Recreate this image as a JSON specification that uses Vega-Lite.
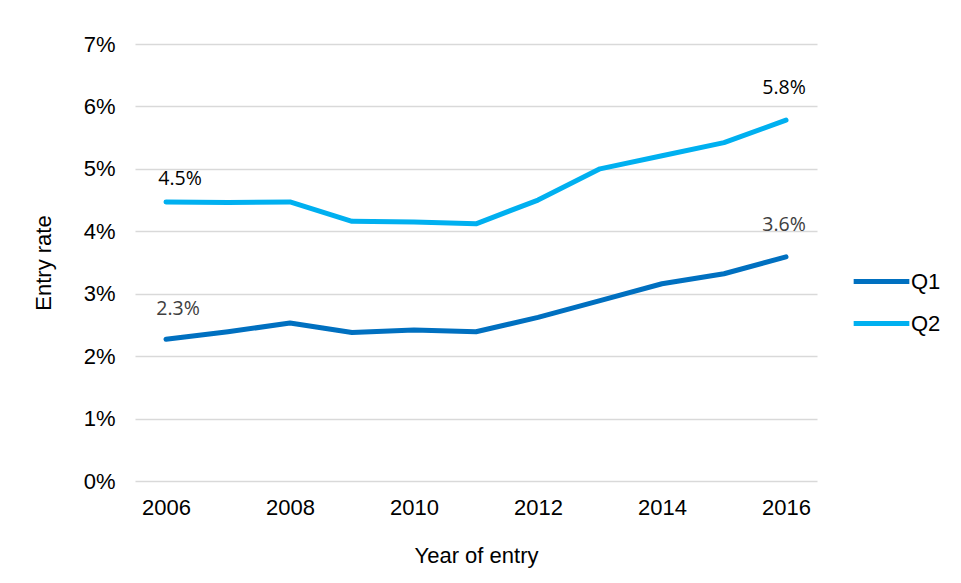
{
  "$schema": "https://vega.github.io/schema/vega-lite/v6.json",
  "autosize": {"type": "none"},
  "padding": {"left": 135, "top": 44, "right": 144, "bottom": 102},
  "width": 682,
  "height": 437,
  "background": "white",
  "config": {
    "view": {"stroke": null},
    "font": "Liberation Sans",
    "axis": {"labelFont": "Liberation Sans", "titleFont": "Liberation Sans", "labelFontSize": 22, "titleFontSize": 22, "labelColor": "#000000", "titleColor": "#000000", "titleFontWeight": "normal", "domain": false, "ticks": false, "tickSize": 0}
  },
  "data": {
    "values": [
      {"year": 2006, "series": "Q1", "rate": 0.0227},
      {"year": 2007, "series": "Q1", "rate": 0.0239},
      {"year": 2008, "series": "Q1", "rate": 0.0253},
      {"year": 2009, "series": "Q1", "rate": 0.0238},
      {"year": 2010, "series": "Q1", "rate": 0.0242},
      {"year": 2011, "series": "Q1", "rate": 0.0239},
      {"year": 2012, "series": "Q1", "rate": 0.0262},
      {"year": 2013, "series": "Q1", "rate": 0.0289},
      {"year": 2014, "series": "Q1", "rate": 0.0316},
      {"year": 2015, "series": "Q1", "rate": 0.0332},
      {"year": 2016, "series": "Q1", "rate": 0.0359},
      {"year": 2006, "series": "Q2", "rate": 0.0447},
      {"year": 2007, "series": "Q2", "rate": 0.0446},
      {"year": 2008, "series": "Q2", "rate": 0.0447},
      {"year": 2009, "series": "Q2", "rate": 0.0416},
      {"year": 2010, "series": "Q2", "rate": 0.0415},
      {"year": 2011, "series": "Q2", "rate": 0.0412},
      {"year": 2012, "series": "Q2", "rate": 0.0450},
      {"year": 2013, "series": "Q2", "rate": 0.0500},
      {"year": 2014, "series": "Q2", "rate": 0.0521},
      {"year": 2015, "series": "Q2", "rate": 0.0542},
      {"year": 2016, "series": "Q2", "rate": 0.0578}
    ]
  },
  "encoding": {
    "x": {
      "field": "year", "type": "quantitative",
      "scale": {"domain": [2005.5, 2016.5], "nice": false, "zero": false},
      "axis": {"values": [2006, 2008, 2010, 2012, 2014, 2016], "format": "d", "grid": false, "labelPadding": 16, "title": "Year of entry", "titlePadding": 27, "labelFlush": false}
    },
    "y": {
      "field": "rate", "type": "quantitative",
      "scale": {"domain": [0, 0.07], "nice": false},
      "axis": {"values": [0, 0.01, 0.02, 0.03, 0.04, 0.05, 0.06, 0.07], "format": ".0%", "grid": true, "gridColor": "#d9d9d9", "gridWidth": 1.5, "labelPadding": 20, "title": "Entry rate", "titlePadding": 28}
    }
  },
  "layer": [
    {
      "mark": {"type": "line", "strokeWidth": 5, "strokeCap": "round", "strokeJoin": "round"},
      "encoding": {
        "color": {
          "field": "series", "type": "nominal",
          "scale": {"domain": ["Q1", "Q2"], "range": ["#0070c0", "#00b0f0"]},
          "legend": {
            "title": null, "orient": "none", "legendX": 716, "legendY": 207,
            "symbolType": "stroke", "symbolSize": 3100, "symbolStrokeWidth": 5,
            "labelFont": "Liberation Sans", "labelFontSize": 22, "labelColor": "#000000",
            "labelOffset": -1, "rowPadding": -1
          }
        }
      }
    },
    {
      "transform": [{"filter": "datum.year == 2006 && datum.series == 'Q2'"}],
      "mark": {"type": "text", "font": "Open Sans", "fontSize": 19.5, "dx": 14, "dy": -23, "baseline": "middle", "align": "center", "color": "#000000"},
      "encoding": {"text": {"field": "rate", "type": "quantitative", "format": ".1%"}}
    },
    {
      "transform": [{"filter": "datum.year == 2006 && datum.series == 'Q1'"}],
      "mark": {"type": "text", "font": "Open Sans", "fontSize": 19.5, "dx": 12, "dy": -30, "baseline": "middle", "align": "center", "color": "#404040"},
      "encoding": {"text": {"field": "rate", "type": "quantitative", "format": ".1%"}}
    },
    {
      "transform": [{"filter": "datum.year == 2016 && datum.series == 'Q2'"}],
      "mark": {"type": "text", "font": "Open Sans", "fontSize": 19.5, "dx": -2, "dy": -32, "baseline": "middle", "align": "center", "color": "#000000"},
      "encoding": {"text": {"field": "rate", "type": "quantitative", "format": ".1%"}}
    },
    {
      "transform": [{"filter": "datum.year == 2016 && datum.series == 'Q1'"}],
      "mark": {"type": "text", "font": "Open Sans", "fontSize": 19.5, "dx": -2, "dy": -32, "baseline": "middle", "align": "center", "color": "#404040"},
      "encoding": {"text": {"field": "rate", "type": "quantitative", "format": ".1%"}}
    }
  ]
}
